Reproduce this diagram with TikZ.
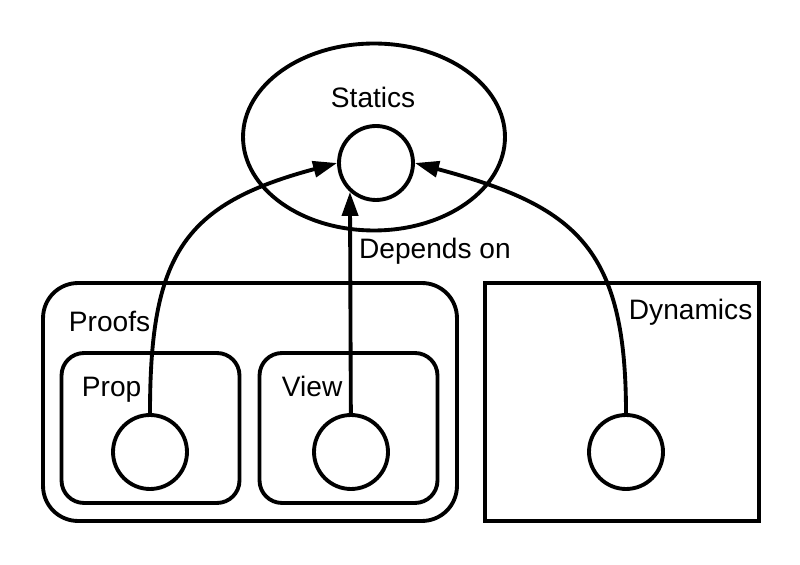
\documentclass[tikz,border=0pt]{standalone}
\usepackage{fontspec}
\setmainfont{Liberation Sans}
\usetikzlibrary{arrows.meta,positioning,shapes.geometric}

\begin{document}
\begin{tikzpicture}[x=0.02cm,y=0.02cm,line width=2.2pt,
    >={Triangle[length=0.48cm,width=0.32cm]},
    font=\fontsize{16}{19}\selectfont,
    point/.style={circle,draw,minimum size=1.48cm,inner sep=0pt},
    outer/.style={draw,rounded corners=0.7cm,inner sep=0pt,
      minimum width=8.28cm,minimum height=4.76cm},
    inner/.style={draw,rounded corners=0.45cm,inner sep=0pt,
      minimum width=3.56cm,minimum height=3cm},
    tag/.style={anchor=base west,inner sep=0pt}]

  \path[fill=white,use as bounding box] (0,0) rectangle (800,564);

  % statics
  \node[ellipse,draw,minimum width=5.24cm,minimum height=3.74cm,
        inner sep=0pt] (world) at (374,427) {};
  \node[tag]   (staticslbl) at (329,456) {Statics};
  \node[point] (statics)    at (376,401) {};

  % proofs
  \node[outer] (proofs) at (250,162) {};
  \node[tag]   (proofslbl) at (67,232) {Proofs};
  \node[inner] (propbox) at (150.5,136) {};
  \node[inner] (viewbox) at (348.5,136) {};
  \node[tag]   (proplbl) at (80,167) {Prop};
  \node[tag]   (viewlbl) at (280,167) {View};
  \node[point] (prop) at (150,112) {};
  \node[point] (view) at (351,112) {};

  % dynamics
  \node[draw,inner sep=0pt,minimum width=5.48cm,minimum height=4.76cm]
        (dynbox) at (622,162) {};
  \node[tag]   (dynlbl) at (627,244) {Dynamics};
  \node[point] (dyn) at (626,112) {};

  \path[->] (prop) edge [out=90,in=195,looseness=1.3] (statics.west);
  \path[->] (view) edge node [tag,pos=0.7,xshift=0.14cm] (dep) {Depends on}
                   (statics.-132);
  \path[->] (dyn) edge [out=90,in=-15,looseness=1.3] (statics.east);
\end{tikzpicture}
\end{document}
